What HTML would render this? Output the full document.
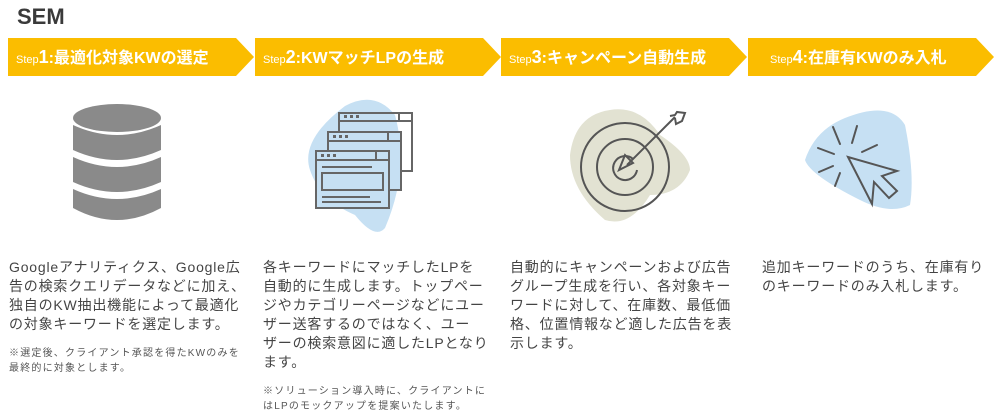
<!DOCTYPE html>
<html><head><meta charset="utf-8"><style>
body{margin:0;width:1000px;height:415px;background:#fff;position:relative;overflow:hidden;font-family:"Liberation Sans","Noto Sans CJK JP",sans-serif;color:#444}
.t{position:absolute;left:17px;top:4px;font-size:22px;font-weight:bold;color:#3a3a3a}
.b{position:absolute;top:38px;height:38px;width:246px;color:#fff;font-weight:bold;font-size:16px;line-height:38px;box-sizing:border-box}
.b svg{position:absolute;left:0;top:0}
.b span{position:relative;padding-left:8px}
.b small{font-size:11px;font-weight:normal}
.b big{font-size:18px}
.p{position:absolute;top:258px;width:250px;font-size:14px;line-height:19px;color:#444;letter-spacing:0.8px;white-space:nowrap}
.n{font-size:10px;line-height:15px;margin-top:12px;color:#555;letter-spacing:1.2px}
</style></head><body>
<div class="t">SEM</div>
<div class="b" style="left:8px"><svg width="246" height="38"><polygon points="0,0 228,0 246,19 228,38 0,38" fill="#fbbd00"/></svg><span><small>Step</small><big>1</big>:最適化対象KWの選定</span></div>
<div class="b" style="left:255px"><svg width="246" height="38"><polygon points="0,0 228,0 246,19 228,38 0,38" fill="#fbbd00"/></svg><span><small>Step</small><big>2</big>:KWマッチLPの生成</span></div>
<div class="b" style="left:501px"><svg width="246" height="38"><polygon points="0,0 228,0 246,19 228,38 0,38" fill="#fbbd00"/></svg><span><small>Step</small><big>3</big>:キャンペーン自動生成</span></div>
<div class="b" style="left:748px"><svg width="246" height="38"><polygon points="0,0 228,0 246,19 228,38 0,38" fill="#fbbd00"/></svg><span style="padding-left:22px"><small>Step</small><big>4</big>:在庫有KWのみ入札</span></div>

<svg style="position:absolute;left:0;top:0" width="1000" height="250">
<g fill="#8a8a8a">
<ellipse cx="117" cy="118" rx="44" ry="14"/>
<path d="M73,125 Q117,145 161,125 V150 Q117,170 73,150Z"/>
<path d="M73,157 Q117,177 161,157 V182 Q117,202 73,182Z"/>
<path d="M73,189 Q117,209 161,189 V208 Q117,232 73,208Z"/>
</g>
<path d="M345,106 Q375,90 395,115 Q410,170 385,228 Q375,240 355,215 Q320,200 310,170 Q300,140 345,106Z" fill="#c6e0f3"/>
<g fill="none" stroke="#666" stroke-width="2">
<rect x="339" y="113" width="73" height="58"/><line x1="339" y1="121" x2="412" y2="121"/><line x1="399" y1="113" x2="399" y2="121"/>
<rect x="328" y="132" width="73" height="58" fill="#c6e0f3"/><line x1="328" y1="141" x2="401" y2="141"/><line x1="388" y1="132" x2="388" y2="141"/>
<rect x="316" y="151" width="73" height="57" fill="#c6e0f3"/><line x1="316" y1="160" x2="389" y2="160"/><line x1="376" y1="151" x2="376" y2="160"/>
<rect x="322" y="173" width="61" height="17"/>
<line x1="322" y1="167" x2="372" y2="167"/><line x1="322" y1="197" x2="370" y2="197"/><line x1="322" y1="202" x2="381" y2="202"/>
</g>
<g fill="#666"><rect x="344" y="115" width="3" height="3"/><rect x="350" y="115" width="3" height="3"/><rect x="356" y="115" width="3" height="3"/>
<rect x="333" y="135" width="3" height="3"/><rect x="339" y="135" width="3" height="3"/><rect x="345" y="135" width="3" height="3"/>
<rect x="321" y="154" width="3" height="3"/><rect x="327" y="154" width="3" height="3"/><rect x="333" y="154" width="3" height="3"/></g>
<path d="M610,110 Q640,105 660,135 Q690,155 690,170 Q680,195 650,195 Q630,228 605,220 Q570,190 570,155 Q575,115 610,110Z" fill="#e2e2d2"/>
<g fill="none" stroke="#555" stroke-width="2">
<circle cx="625" cy="167" r="44"/><circle cx="625" cy="167" r="28"/><path d="M633,159 A12,12 0 1 0 637,170"/>
<line x1="627" y1="165" x2="675" y2="117"/><path d="M619,170 L625,155 L633,163Z"/><path d="M670,116 L675,115 L677,112 L685,113 L682,121 L676,124 L675,118"/>
</g>
<path d="M845,118 Q890,100 905,125 Q915,175 910,205 Q890,215 860,200 Q810,175 805,160 Q815,130 845,118Z" fill="#c6e0f3"/>
<g fill="none" stroke="#555" stroke-width="2" stroke-linecap="round">
<path d="M848,157 L872,204 L874,182 L889,198 L897,191 L882,176 L897,171Z"/>
<line x1="833" y1="127" x2="840" y2="144"/><line x1="857" y1="126" x2="852" y2="143"/><line x1="818" y1="148" x2="834" y2="154"/><line x1="862" y1="152" x2="877" y2="145"/><line x1="819" y1="172" x2="833" y2="166"/><line x1="840" y1="173" x2="835" y2="186"/>
</g>
</svg>

<div class="p" style="left:9px">Googleアナリティクス、Google広<br>告の検索クエリデータなどに加え、<br>独自のKW抽出機能によって最適化<br>の対象キーワードを選定します。<div class="n">※選定後、クライアント承認を得たKWのみを<br>最終的に対象とします。</div></div>
<div class="p" style="left:263px">各キーワードにマッチしたLPを<br>自動的に生成します。トップペー<br>ジやカテゴリーページなどにユー<br>ザー送客するのではなく、ユー<br>ザーの検索意図に適したLPとなり<br>ます。<div class="n">※ソリューション導入時に、クライアントに<br>はLPのモックアップを提案いたします。</div></div>
<div class="p" style="left:510px">自動的にキャンペーンおよび広告<br>グループ生成を行い、各対象キー<br>ワードに対して、在庫数、最低価<br>格、位置情報など適した広告を表<br>示します。</div>
<div class="p" style="left:762px">追加キーワードのうち、在庫有り<br>のキーワードのみ入札します。</div>
</body></html>
